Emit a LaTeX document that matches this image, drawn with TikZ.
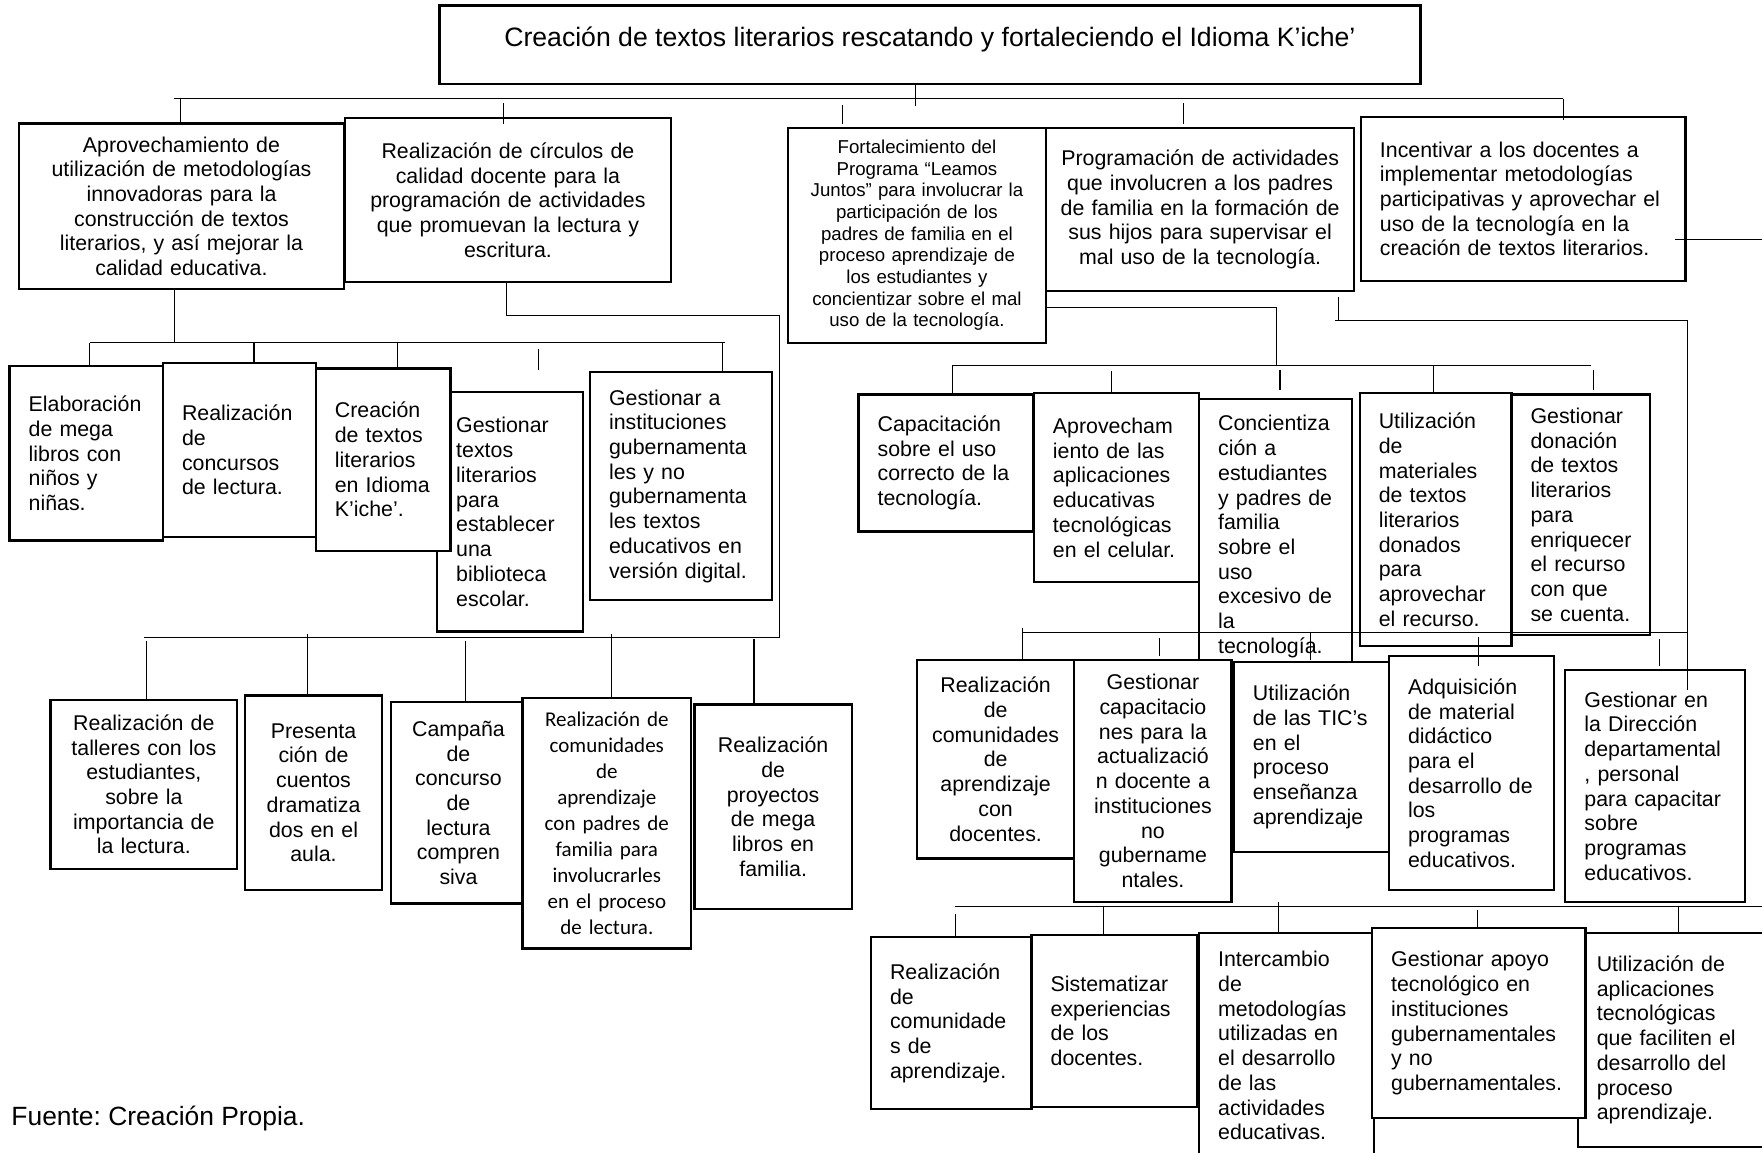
\documentclass[tikz,border=0pt]{standalone}
\usepackage{fontspec}
\setmainfont{Liberation Sans}
\newfontfamily\calibrifont{Carlito}
\hyphenpenalty=10000
\exhyphenpenalty=10000
\frenchspacing

\tikzset{
  caja/.style={draw=black, line width=2pt, fill=white, inner xsep=17pt, inner ysep=0pt, align=left, font=\fontsize{19}{22}\selectfont},
  cajac/.style={caja, inner xsep=10pt, align=center},
  linea/.style={draw=black, line width=1pt},
}

\begin{document}
\begin{tikzpicture}[x=1pt, y=-1pt]

\useasboundingbox (0,0) rectangle (1568,1026);

% Titulo
\node[cajac, minimum width=873pt, minimum height=70pt, font=\fontsize{23.7}{27}\selectfont, text height=21pt, text depth=19pt] (titulo) at (827.5,40) {Creación de textos literarios rescatando y fortaleciendo el Idioma K’iche’};

% Primer nivel
\node[cajac, minimum width=289pt, minimum height=147pt, text width=269pt] (aprov) at (161.5,183.5) {Aprovechamiento de\\utilización de metodologías\\innovadoras para la\\construcción de textos\\literarios, y así mejorar la\\calidad educativa.};
\node[cajac, minimum width=290pt, minimum height=146pt, text width=270pt] (circulos) at (452,178) {Realización de círculos de\\calidad docente para la\\programación de actividades\\que promuevan la lectura y\\escritura.};
\node[cajac, minimum width=230pt, minimum height=191pt, text width=210pt, font=\fontsize{16.6}{19.25}\selectfont] (leamos) at (816,209.5) {Fortalecimiento del\\Programa “Leamos\\Juntos” para involucrar la\\participación de los\\padres de familia en el\\proceso aprendizaje de\\los estudiantes y\\concientizar sobre el mal\\uso de la tecnología.};
\node[cajac, minimum width=274pt, minimum height=145pt, text width=254pt] (padres) at (1068,186.5) {Programación de actividades\\que involucren a los padres\\de familia en la formación de\\sus hijos para supervisar el\\mal uso de la tecnología.};
\node[caja, minimum width=289pt, minimum height=146pt, text width=255pt] (incentivar) at (1355.5,177) {Incentivar a los docentes a\\implementar metodologías\\participativas y aprovechar el\\uso de la tecnología en la\\creación de textos literarios.};

% Segundo nivel, izquierda
\node[caja, minimum width=136.5pt, minimum height=155pt, text width=102.5pt] (megalibros) at (76.75,403.5) {Elaboración\\de mega\\libros con\\niños y\\niñas.};
\node[caja, minimum width=136pt, minimum height=155pt, text width=102pt] (concursos) at (213,400.5) {Realización\\de\\concursos\\de lectura.};
\node[caja, minimum width=130pt, minimum height=213pt, text width=96pt] (biblioteca) at (454,455.5) {Gestionar\\textos\\literarios\\para\\establecer\\una\\biblioteca\\escolar.};
\node[caja, minimum width=120pt, minimum height=162pt, text width=86pt] (kiche) at (341,409) {Creación\\de textos\\literarios\\en Idioma\\K’iche’.};
\node[caja, minimum width=162pt, minimum height=203pt, text width=128pt] (digital) at (606,432.5) {Gestionar a\\instituciones\\gubernamenta\\les y no\\gubernamenta\\les textos\\educativos en\\versión digital.};

% Tercer nivel, izquierda
\node[cajac, minimum width=166pt, minimum height=150pt, text width=146pt] (talleres) at (128,698) {Realización de\\talleres con los\\estudiantes,\\sobre la\\importancia de\\la lectura.};
\node[cajac, minimum width=122pt, minimum height=173pt, text width=102pt] (cuentos) at (279,705.5) {Presenta\\ción de\\cuentos\\dramatiza\\dos en el\\aula.};
\node[cajac, minimum width=120pt, minimum height=179pt, text width=100pt] (campana) at (408,714.5) {Campaña\\de\\concurso\\de\\lectura\\compren\\siva};
\node[cajac, minimum width=150pt, minimum height=223pt, text width=130pt, font=\calibrifont\fontsize{18.7}{23.1}\selectfont] (compadres) at (540,732.5) {Realización de\\comunidades\\de\\aprendizaje\\con padres de\\familia para\\involucrarles\\en el proceso\\de lectura.};
\node[cajac, minimum width=140pt, minimum height=182pt, text width=120pt] (proyectos) at (688,718) {Realización\\de\\proyectos\\de mega\\libros en\\familia.};

% Segundo nivel, derecha
\node[caja, minimum width=155pt, minimum height=122pt, text width=121pt] (capacitacion) at (841.5,412) {Capacitación\\sobre el uso\\correcto de la\\tecnología.};
\node[caja, minimum width=147pt, minimum height=168pt, text width=113pt] (celular) at (993.5,434) {Aprovecham\\iento de las\\aplicaciones\\educativas\\tecnológicas\\en el celular.};
\node[caja, minimum width=136pt, minimum height=245pt, text width=102pt] (concientiza) at (1135,477.5) {Concientiza\\ción a\\estudiantes\\y padres de\\familia\\sobre el\\uso\\excesivo de\\la\\tecnología.};
\node[caja, minimum width=135pt, minimum height=225pt, text width=101pt] (donados) at (1277.5,462.5) {Utilización\\de\\materiales\\de textos\\literarios\\donados\\para\\aprovechar\\el recurso.};
\node[caja, minimum width=123pt, minimum height=214pt, text width=89pt] (donacion) at (1406.5,458) {Gestionar\\donación\\de textos\\literarios\\para\\enriquecer\\el recurso\\con que\\se cuenta.};

% Tercer nivel, derecha
\node[cajac, minimum width=140pt, minimum height=177pt, text width=120pt] (comdocentes) at (886,675.5) {Realización\\de\\comunidades\\de\\aprendizaje\\con\\docentes.};
\node[cajac, minimum width=140pt, minimum height=216pt, text width=120pt] (capacitaciones) at (1026,695) {Gestionar\\capacitacio\\nes para la\\actualizació\\n docente a\\instituciones\\no\\gubername\\ntales.};
\node[caja, minimum width=138pt, minimum height=169pt, text width=104pt] (tics) at (1167,673.5) {Utilización\\de las TIC’s\\en el\\proceso\\enseñanza\\aprendizaje};
\node[caja, minimum width=147pt, minimum height=208pt, text width=113pt] (didactico) at (1309.5,688) {Adquisición\\de material\\didáctico\\para el\\desarrollo de\\los\\programas\\educativos.};
\node[caja, minimum width=160pt, minimum height=207pt, text width=126pt] (direccion) at (1473,699.5) {Gestionar en\\la Dirección\\departamental\\, personal\\para capacitar\\sobre\\programas\\educativos.};

% Cuarto nivel, derecha
\node[caja, minimum width=143pt, minimum height=153pt, text width=109pt] (comunidades) at (846.5,910.5) {Realización\\de\\comunidade\\s de\\aprendizaje.};
\node[caja, minimum width=147pt, minimum height=153pt, text width=113pt] (sistematizar) at (991.5,908.5) {Sistematizar\\experiencias\\de los\\docentes.};
\node[caja, minimum width=156pt, minimum height=201pt, text width=122pt] (intercambio) at (1145,930.5) {Intercambio\\de\\metodologías\\utilizadas en\\el desarrollo\\de las\\actividades\\educativas.};
\node[caja, minimum width=176pt, minimum height=191pt, text width=142pt] (aplicaciones) at (1492,925.5) {Utilización de\\aplicaciones\\tecnológicas\\que faciliten el\\desarrollo del\\proceso\\aprendizaje.};
\node[caja, minimum width=190pt, minimum height=169pt, text width=156pt] (apoyo) at (1316,910.5) {Gestionar apoyo\\tecnológico en\\instituciones\\gubernamentales\\y no\\gubernamentales.};

% Fuente
\node[anchor=west, inner sep=0pt, font=\fontsize{23.5}{27}\selectfont] (fuente) at (10,995) {Fuente: Creación Propia.};

% Conectores primer nivel
\draw[linea] (155,88) -- (1391,88);
\foreach \x/\ya/\yb in {161/88/110, 448/92/110, 750/93/110, 815/75/94, 1053/92/110, 1391/88/107}
  \draw[linea] (\x,\ya) -- (\x,\yb);
\draw[linea] (1491,213) -- (1568,213);

% Conectores izquierda
\draw[linea] (aprov.south -| 155,0) -- (155,305);
\draw[linea] (80,305) -- (645,305);
\foreach \x/\ya/\yb in {80/305/326, 226/305/323, 354/305/328, 479/311/329, 643/305/331}
  \draw[linea] (\x,\ya) -- (\x,\yb);
\draw[linea] (circulos.south -| 451,0) -- (451,281) -- (694,281) -- (694,567);
\draw[linea] (128,567) -- (694,567);
\foreach \x/\ya/\yb in {130/570/623, 274/564/619, 414/570/625, 544/564/621, 671/569/627}
  \draw[linea] (\x,\ya) -- (\x,\yb);

% Conectores derecha
\draw[linea] (leamos.east |- 0,274) -- (1136,274) -- (1136,325);
\draw[linea] (848,325) -- (1416,325);
\foreach \x/\ya/\yb in {848/325/351, 989/330/349, 1139/329/347, 1276/325/350, 1418/329/347}
  \draw[linea] (\x,\ya) -- (\x,\yb);
\draw[linea] (1191,264) -- (1191,285);
\draw[linea] (1188,285) -- (1502,285) -- (1502,614);
\draw[linea] (910,563) -- (1502,563);
\foreach \x/\ya/\yb in {910/559/587, 1032/568/584, 1166/562/587, 1316/567/593, 1477/569/593}
  \draw[linea] (\x,\ya) -- (\x,\yb);
\draw[linea] (850,807) -- (1568,807);
\foreach \x/\ya/\yb in {850/813/834, 982/807/832, 1138/803/829, 1315/810/826, 1494/807/830}
  \draw[linea] (\x,\ya) -- (\x,\yb);

\end{tikzpicture}
\end{document}
